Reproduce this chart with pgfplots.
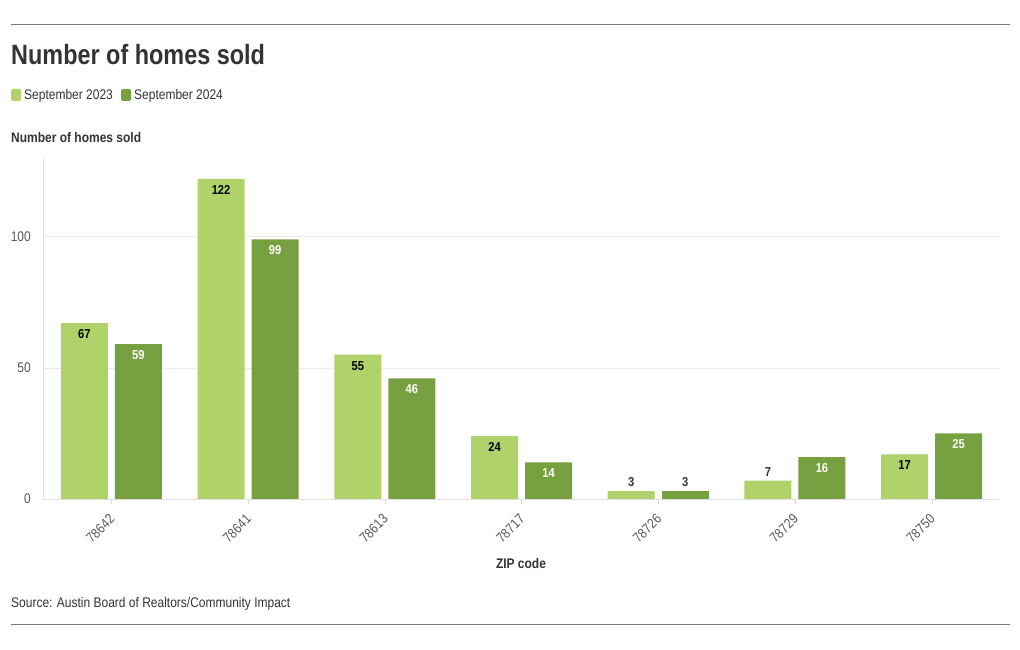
\documentclass[border=0pt]{standalone}
\usepackage{pgfplots}
\pgfplotsset{compat=1.18}
\usepackage{fontspec}
\setmainfont{Liberation Sans}[FakeStretch=0.86]
\newfontfamily\titlefont{Liberation Sans}[FakeStretch=0.84]
\definecolor{lightg}{HTML}{AFD36A}
\definecolor{darkg}{HTML}{77A040}
\definecolor{txt}{HTML}{333333}
\definecolor{tickc}{HTML}{595959}
\definecolor{rule}{HTML}{7A7A7A}
\begin{document}
\begin{tikzpicture}[x=1bp,y=1bp]
\useasboundingbox (0,0) rectangle (1020,650);
\draw[line width=1bp, color=rule] (11,625) -- (1010,625);
\draw[line width=1bp, color=rule] (11,25) -- (1010,25);
\node[anchor=base west, inner sep=0, text=txt, font=\fontsize{28}{32}\titlefont\bfseries] at (11,585) {Number of homes sold};
\fill[lightg, rounded corners=2bp] (11,549) rectangle (21,561);
\node[anchor=base west, inner sep=0, text=txt, font=\fontsize{14}{16}\selectfont] at (24,550) {September 2023};
\fill[darkg, rounded corners=2bp] (121,549) rectangle (131,561);
\node[anchor=base west, inner sep=0, text=txt, font=\fontsize{14}{16}\selectfont] at (134,550) {September 2024};
\node[anchor=base west, inner sep=0, text=txt, font=\fontsize{14}{16}\selectfont\bfseries] at (11,507) {Number of homes sold};
\node[anchor=base, inner sep=0, text=txt, font=\fontsize{14}{16}\selectfont\bfseries] at (521,81) {ZIP code};
\node[anchor=base west, inner sep=0, text=txt, font=\fontsize{14}{16}\selectfont] at (11,42) {Source: Austin Board of Realtors/Community Impact};
\begin{axis}[
  at={(43bp,151bp)}, anchor=south west, scale only axis,
  width=957bp, height=341bp,
  ymin=0, ymax=130, xmin=-0.5, xmax=6.5,
  ybar, bar width=47bp,
  xtick={0,1,2,3,4,5,6},
  xticklabels={78642,78641,78613,78717,78726,78729,78750},
  ytick={0,50,100},
  ymajorgrids, grid style={draw=black!8},
  axis x line*=bottom, axis y line*=left,
  axis line style={draw=black!12, -},
  x tick style={draw=black!15}, y tick style={draw=none},
  major tick length=5bp, tick align=outside,
  /pgf/number format/assume math mode=true,
  tick label style={font=\fontsize{14}{16}\selectfont, text=tickc},
  xticklabel style={rotate=45, anchor=east, inner sep=1bp, xshift=-7.4bp, yshift=-9.6bp},
  yticklabel style={inner sep=0pt, xshift=-7bp},
]
\addplot[fill=lightg, draw=none, bar shift=-27bp, nodes near coords,
  nodes near coords style={anchor=north, yshift=-3bp, text=black, font=\fontsize{13}{15}\selectfont\bfseries}]
  coordinates {(0,67) (1,122) (2,55) (3,24) (6,17)};
\addplot[fill=lightg, draw=none, bar shift=-27bp, nodes near coords,
  nodes near coords style={anchor=south, yshift=1bp, text=txt, font=\fontsize{13}{15}\selectfont\bfseries}]
  coordinates {(4,3) (5,7)};
\addplot[fill=darkg, draw=none, bar shift=27bp, nodes near coords,
  nodes near coords style={anchor=north, yshift=-3bp, text=white, font=\fontsize{13}{15}\selectfont\bfseries}]
  coordinates {(0,59) (1,99) (2,46) (3,14) (5,16) (6,25)};
\addplot[fill=darkg, draw=none, bar shift=27bp, nodes near coords,
  nodes near coords style={anchor=south, yshift=1bp, text=txt, font=\fontsize{13}{15}\selectfont\bfseries}]
  coordinates {(4,3)};
\end{axis}
\end{tikzpicture}
\end{document}
